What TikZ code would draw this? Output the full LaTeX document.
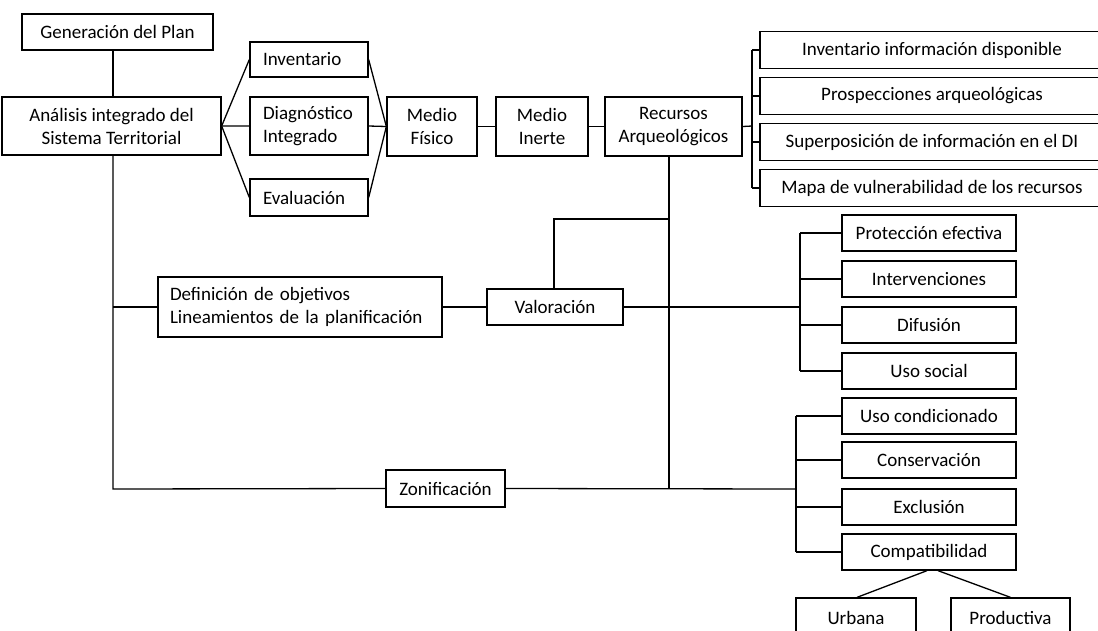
\documentclass[tikz,border=0pt]{standalone}
\usepackage{fontspec}
\setmainfont{Carlito}
\tikzset{
  box/.style={draw, inner sep=0pt, align=center, font=\fontsize{19}{23}\selectfont},
  lbox/.style={box, align=left, text width=#1},
}
\begin{document}
\begin{tikzpicture}[x=1pt, y=-1pt, line width=1.3pt]
    \useasboundingbox (0,0) rectangle (1098,630);
    \clip (0,0) rectangle (1098,630);
    % left part
    \node[box, minimum width=191, minimum height=36] (gen) at (117.5,32) {Generación del Plan};
    \node[box, minimum width=219, minimum height=58] (ana) at (111.5,126) {Análisis integrado del\\Sistema Territorial};
    \node[lbox=92, inner xsep=13, minimum height=35] (inv) at (309,59.5) {Inventario};
    \node[lbox=92, inner xsep=13, minimum height=58] (diag) at (309,126) {Diagnóstico\\Integrado};
    \node[lbox=92, inner xsep=13, minimum height=37] (eva) at (309,197.5) {Evaluación};
    \node[box, minimum width=90, minimum height=59] (fis) at (432,126.5) {Medio\\Físico};
    \node[box, minimum width=92, minimum height=59] (ine) at (542,126.5) {Medio\\Inerte};
    \node[box, minimum width=137, minimum height=59] (rec) at (673.5,126.5) {Recursos\\Arqueológicos};
    % recursos list (cut at the right edge)
    \foreach \t [count=\i] in {Inventario información disponible, Prospecciones arqueológicas,
        Superposición de información en el DI, Mapa de vulnerabilidad de los recursos}
        \node[box, minimum width=344, minimum height=37] (r\i) at (932,4+46*\i) {\t};
    \node[lbox=260, inner xsep=12, minimum height=60] (def) at (300,307) {Definición de objetivos\\Lineamientos de la planificación};
    \node[box, minimum width=136, minimum height=36] (val) at (555,307) {Valoración};
    \node[box, minimum width=119, minimum height=37] (zon) at (445.5,488.5) {Zonificación};
    % valoracion list
    \foreach \t [count=\i] in {Protección efectiva, Intervenciones, Difusión, Uso social}
        \node[box, minimum width=174, minimum height=36] (p\i) at (929,187+46*\i) {\t};
    % zonificacion list
    \foreach \t/\y [count=\i] in {Uso condicionado/416, Conservación/460, Exclusión/507, Compatibilidad/552}
        \node[box, minimum width=174, minimum height=36] (z\i) at (929,\y) {\t};
    \node[box, minimum width=120, minimum height=40] (urb) at (856,618) {Urbana};
    \node[box, minimum width=119, minimum height=40] (pro) at (1010.5,618) {Productiva};
    % corners of the lines
    \coordinate (b1) at (752,126); \coordinate (b2) at (800,307); \coordinate (b3) at (796,489);
    \coordinate (top) at (113,155); \coordinate (low) at (113,489);
    \coordinate (rtop) at (669,156); \coordinate (rlow) at (669,489);
    \draw (gen.south -| top) -- (ana.north -| top);
    \foreach \n in {inv,diag,eva} \draw (ana.east) -- (\n.west) (\n.east) -- (fis.west);
    \draw (fis) -- (ine) (ine) -- (rec);
    \draw (rec.east) -- (b1);
    \draw (b1 |- r1.west) -- (b1 |- r4.west); % bracket of recursos
    \foreach \i in {1,...,4} \draw (b1 |- r\i.west) -- (r\i.west);
    \draw (top) -- (low) -- (zon.west);
    \draw (top |- def.west) -- (def.west);
    \draw (def) -- (val);
    \draw (rtop) -- (rlow);
    \draw (val.north -| 554,0) |- (669,219);
    \draw (val.east) -- (b2);
    \draw (b2 |- p1.west) -- (b2 |- p4.west); % bracket of valoracion
    \foreach \i in {1,...,4} \draw (b2 |- p\i.west) -- (p\i.west);
    \draw (zon.east) -- (b3);
    \draw (b3 |- z1.west) -- (b3 |- z4.west); % bracket of zonificacion
    \foreach \i in {1,...,4} \draw (b3 |- z\i.west) -- (z\i.west);
    \draw (z4.south -| 927,0) -- (urb.north -| 857,0);
    \draw (z4.south -| 938,0) -- (pro.north);
\end{tikzpicture}
\end{document}
